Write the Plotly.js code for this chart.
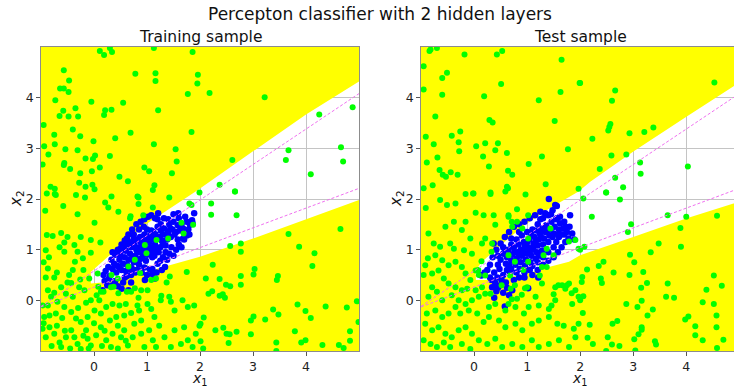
<!DOCTYPE html>
<html>
<head>
<meta charset="utf-8">
<script src="https://cdn.plot.ly/plotly-3.0.1.min.js"></script>
<style>html,body{margin:0;padding:0;background:#fff;}#chart{width:734px;height:387px;}</style>
</head>
<body>
<div id="chart"></div>
<script>
// ---------------- data ----------------
const mainTitle = "Percepton classifier with 2 hidden layers";
const panelTitles = ["Training sample", "Test sample"];
const tickValues = [0, 1, 2, 3, 4];
const tickLabels = ["0", "1", "2", "3", "4"];

// decision boundary of the white (signal) wedge
const trainUpperEdge = [[-0.06,0.56],[0.16,0.76],[0.54,1.12],[1.01,1.52],[1.52,1.88],[1.96,2.18],[3.0,2.94],[4.0,3.67],[5.0,4.32]];
const trainLowerEdge = [[-0.06,0.33],[0.26,0.36],[0.6,0.45],[1.08,0.59],[1.5,0.72],[2.0,0.86],[3.0,1.22],[4.0,1.60],[5.0,1.98]];
const testUpperEdge  = [[0.03,0.59],[0.15,0.76],[0.47,1.06],[0.91,1.45],[1.41,1.81],[1.97,2.15],[2.19,2.34],[3.01,2.94],[4.01,3.63],[4.89,4.22],[5.0,4.30]];
const testLowerEdge  = [[0.03,0.40],[0.28,0.40],[0.91,0.50],[1.41,0.66],[1.79,0.76],[2.0,0.89],[3.0,1.25],[4.01,1.62],[4.89,1.91],[5.0,1.95]];

// dashed reference lines
const refLineX = [-1, 5];
const refUpperY = [-0.12, 4.08];
const refLowerY = [-0.13, 2.21];

// signal (blue) points
const trainSignal = [[0.18,0.50],[0.27,0.66],[0.22,0.58],[0.30,0.48],[0.35,0.62],[0.38,0.72],[0.33,0.80],[0.42,0.55],[0.45,0.68],[0.48,0.80],[0.50,0.90],[0.44,0.95],[0.52,0.60],[0.55,0.72],[0.58,0.85],[0.60,0.98],[0.56,1.05],[0.62,0.70],[0.65,0.80],[0.68,0.92],[0.70,1.05],[0.66,1.15],[0.72,0.62],[0.75,0.75],[0.78,0.88],[0.80,1.00],[0.76,1.12],[0.82,1.20],[0.85,0.70],[0.88,0.82],[0.90,0.95],[0.92,1.08],[0.87,1.25],[0.95,1.30],[0.98,0.78],[1.00,0.90],[1.02,1.02],[1.04,1.15],[1.00,1.40],[1.06,1.28],[1.10,0.85],[1.12,0.98],[1.15,1.10],[1.18,1.22],[1.12,1.35],[1.20,1.45],[1.22,0.95],[1.25,1.05],[1.28,1.18],[1.30,1.30],[1.26,1.50],[1.32,1.42],[1.35,1.08],[1.38,1.20],[1.40,1.35],[1.42,1.50],[1.45,1.25],[1.48,1.40],[1.50,1.55],[1.55,1.35],[1.58,1.48],[1.60,1.62],[1.65,1.50],[1.68,1.42],[1.72,1.65],[1.81,1.49],[1.59,1.72],[1.21,1.72],[1.02,1.65],[0.85,1.40],[0.75,1.30],[0.62,1.22],[1.15,0.43],[0.96,0.40],[0.65,0.20],[0.52,0.23],[1.34,0.66],[0.16,0.20],[0.90,0.55],[1.05,0.62],[1.20,0.72],[0.70,0.50],[0.40,0.38],[0.58,0.45],[0.82,0.95],[0.86,1.05],[0.94,1.18],[0.96,1.00],[1.08,1.05],[1.10,1.20],[0.98,1.12],[1.16,1.30],[1.24,1.25],[0.92,0.88],[0.84,0.78],[1.06,0.95],[1.14,0.88],[0.78,1.05],[1.02,1.22],[1.30,1.12],[1.36,1.30],[0.72,0.82],[0.88,1.15],[1.18,1.02],[1.26,1.38],[1.44,1.42],[1.52,1.30],[0.66,0.62],[0.60,0.58],[0.48,0.65],[1.08,1.38],[0.94,1.45],[1.40,1.60],[1.50,1.70],[1.62,1.38],[1.75,1.55],[1.85,1.58],[1.78,1.40],[1.89,1.72],[1.86,1.52],[1.20,1.60],[1.32,1.62],[0.70,0.35],[0.80,0.60],[0.28,0.42],[1.10,0.52],
[0.40,0.90],[0.45,1.00],[0.52,1.10],[0.58,1.18],[0.65,1.30],[0.72,1.40],[0.80,1.50],[0.88,1.55],[0.95,1.60],[1.08,1.68],[1.15,1.62],[0.35,0.95],[0.50,1.02],[0.60,1.10],[0.75,1.22],[0.85,0.58],[0.95,0.65],[1.00,0.50],[1.10,0.62],[1.18,0.55],[1.25,0.78],[1.30,0.85],[1.38,0.80],[1.42,0.92],[1.50,0.88],[1.55,1.00],[1.60,1.10],[1.65,1.05],[1.70,1.20],[1.75,1.28],[1.80,1.30],[1.46,1.05],[1.35,0.95],[0.70,0.65],[0.78,0.55],[0.62,0.48],[0.55,0.35],[0.45,0.28],[0.35,0.30],[0.25,0.30],[0.20,0.38],[1.58,1.20],[1.68,1.22],[1.28,0.60]];

const testSignal = [[0.12,0.50],[0.34,0.26],[0.40,0.34],[0.58,-0.12],[0.72,0.20],[1.02,0.24],[1.21,0.45],[0.37,1.12],[1.41,2.00],[1.53,1.88],[1.56,1.86],[1.72,1.45],[1.89,1.20],[0.30,0.45],[0.38,0.55],[0.45,0.70],[0.50,0.80],[0.48,0.62],[0.55,0.50],[0.55,0.92],[0.60,0.72],[0.62,0.85],[0.65,1.00],[0.62,0.60],[0.68,0.52],[0.70,0.78],[0.72,0.90],[0.75,1.05],[0.78,0.70],[0.80,0.82],[0.82,0.95],[0.84,1.10],[0.80,1.20],[0.86,0.62],[0.88,0.75],[0.90,0.88],[0.92,1.00],[0.94,1.15],[0.90,1.28],[0.96,0.68],[0.98,0.80],[1.00,0.92],[1.02,1.05],[1.04,1.20],[1.00,1.35],[1.06,0.75],[1.08,0.88],[1.10,1.00],[1.12,1.12],[1.14,1.25],[1.10,1.40],[1.16,0.82],[1.18,0.95],[1.20,1.08],[1.22,1.20],[1.24,1.32],[1.20,1.50],[1.28,0.98],[1.30,1.10],[1.32,1.22],[1.34,1.35],[1.36,1.48],[1.30,1.62],[1.40,1.15],[1.42,1.28],[1.44,1.40],[1.46,1.55],[1.50,1.32],[1.52,1.45],[1.55,1.60],[1.60,1.40],[1.62,1.52],[1.65,1.30],[1.68,1.42],[1.70,1.55],[1.75,1.35],[1.80,1.45],[1.34,1.72],[1.81,1.68],[1.56,1.62],[0.14,0.49],[0.33,0.40],[0.85,0.45],[0.95,0.55],[1.05,0.60],[0.75,0.40],[0.60,0.35],[0.50,0.30],[0.42,0.18],[0.38,0.05],[0.66,0.10],[0.88,1.00],[0.96,1.08],[1.04,0.98],[0.92,0.92],[1.12,1.05],[0.84,0.88],[1.00,1.15],[1.08,1.30],[1.16,1.15],[1.26,1.25],[0.76,0.95],[0.70,1.10],[1.38,1.38],[1.48,1.25],[1.58,1.30],[0.58,1.00],[0.66,0.68],[1.22,0.88],[1.28,1.42],[1.18,1.38],[0.44,0.45],[0.52,0.40],[1.45,1.70],[1.62,1.65],
[0.30,0.70],[0.35,0.85],[0.42,1.00],[0.50,1.12],[0.58,1.25],[0.66,1.35],[0.75,1.45],[0.85,1.50],[0.95,1.55],[1.05,1.62],[1.15,1.68],[1.25,1.75],[0.45,0.88],[0.55,1.05],[0.70,1.22],[0.85,1.35],[0.95,0.45],[1.10,0.50],[1.20,0.60],[1.30,0.70],[1.40,0.78],[1.50,0.85],[1.58,0.95],[1.65,1.05],[1.72,1.15],[1.78,1.22],[1.85,1.32],[1.30,0.85],[1.40,0.95],[1.50,1.05],[1.55,1.15],[1.60,1.25],[1.70,1.30],[1.20,0.75],[1.10,0.68],[0.98,0.62],[0.80,0.55],[0.70,0.62],[0.25,0.60],[0.20,0.55],[0.45,0.25],[0.55,0.15],[0.62,0.25],[1.25,1.60],[1.40,1.68],[1.48,1.78]];

// background (green) points
const trainBackground = [[0.11,4.92],[0.19,4.84],[0.34,4.90],[0.30,4.98],[1.13,4.98],[1.86,4.90],[-0.57,4.54],[-0.47,4.34],[-0.64,4.18],[-0.57,4.18],[-0.48,4.11],[-0.95,3.46],[-0.73,3.95],[-0.58,3.74],[-0.65,3.64],[-0.35,3.79],[-0.30,3.63],[-0.48,3.63],[-0.05,3.92],[0.21,3.75],[0.19,3.66],[0.33,3.76],[0.55,3.90],[0.78,4.47],[1.16,4.48],[1.16,4.33],[1.21,3.75],[1.96,4.45],[1.95,4.28],[1.77,4.07],[2.18,4.09],[3.22,4.01],[-0.94,3.04],[-0.75,3.27],[-0.74,3.08],[-0.86,2.88],[-0.54,2.98],[-0.40,3.37],[-0.26,3.24],[-0.31,2.96],[-0.56,2.71],[-0.57,2.67],[-0.45,2.59],[-0.01,3.14],[0.02,2.86],[-0.02,2.79],[-0.16,2.80],[-0.04,2.55],[0.11,2.62],[-0.26,2.51],[-0.28,2.32],[-0.16,2.24],[-0.03,2.28],[0.01,2.19],[0.30,2.85],[0.40,3.20],[0.69,3.31],[0.48,2.44],[0.64,2.35],[0.82,2.05],[1.13,3.08],[1.54,2.98],[1.56,2.74],[1.47,2.51],[0.95,2.62],[1.04,2.55],[1.14,2.27],[1.11,2.18],[1.84,3.32],[2.61,2.77],[2.37,2.28],[1.99,2.13],[2.66,2.15],[3.67,2.96],[3.62,2.77],[4.09,2.49],[4.66,3.02],[4.70,2.74],[4.25,3.67],[4.88,3.81],[-0.97,2.68],[-0.89,2.11],[-0.82,2.24],[-0.74,2.20],[-0.72,2.08],[-0.34,2.08],
[-0.74,2.10],[-0.17,2.03],[0.21,1.93],[0.33,2.05],[0.84,2.03],[-0.92,1.77],[-0.58,1.86],[-0.31,1.70],[0.01,1.53],[0.69,1.66],[0.84,1.90],[1.11,1.83],[1.42,2.03],[1.80,1.91],[-0.89,1.29],[-0.78,1.27],[-0.62,1.33],[-0.50,1.25],[-0.56,1.14],[-0.25,1.25],[-0.37,1.09],[-0.06,1.19],[0.12,1.14],[-0.91,0.99],[-0.56,0.96],[-0.31,0.96],[-0.21,0.83],[-0.06,0.94],[-0.36,0.76],[-0.87,0.63],[-0.91,0.45],[-0.75,0.45],[-0.62,0.26],[-0.47,0.50],[-0.43,0.34],[-0.26,0.41],[-0.09,0.43],[0.07,0.53],[-0.18,0.20],[-0.87,0.20],[-0.81,0.07],[-0.97,-0.10],[-0.87,-0.10],[-0.69,-0.03],[-0.53,0.13],[-0.40,0.07],[-0.28,0.26],[-0.06,0.0],[0.10,0.0],[0.13,0.17],[0.32,0.26],[0.45,0.43],[0.70,0.17],[0.89,0.20],[1.01,0.20],[1.08,0.40],[1.17,0.43],
[-0.94,-0.33],[-0.84,-0.30],[-0.72,-0.26],[-0.56,-0.13],[-0.43,-0.23],[-0.34,-0.36],[-0.25,-0.43],[-0.12,-0.33],[0.01,-0.20],[0.13,-0.26],[0.23,-0.13],[0.35,-0.07],[0.48,-0.10],[0.42,-0.33],[0.57,-0.30],[0.60,-0.07],[0.82,-0.10],[1.01,-0.07],[1.08,-0.17],[1.14,-0.33],[1.26,0.0],[1.42,0.07],[1.45,-0.03],[1.52,-0.20],[1.67,0.0],[1.77,-0.13],[1.89,-0.10],[0.89,-0.40],[0.76,-0.46],[-0.97,-0.56],[-0.84,-0.53],[-0.91,-0.73],[-0.75,-0.66],[-0.65,-0.83],[-0.53,-0.73],[-0.62,-0.92],[-0.43,-0.59],[-0.37,-0.73],[-0.31,-0.86],[-0.25,-0.96],[-0.15,-0.59],[-0.12,-0.76],[-0.06,-0.89],[0.04,-0.69],[0.13,-0.53],[0.23,-0.79],[0.32,-0.92],[0.35,-0.66],[0.45,-0.50],[0.51,-0.73],[0.57,-0.59],[0.64,-0.89],[0.73,-0.73],[0.89,-0.66],[0.95,-0.92],[1.04,-0.59],[1.11,-0.79],[1.17,-0.92],[1.23,-0.50],[1.33,-0.73],[1.45,-0.92],[1.52,-0.59],[1.64,-0.86],[1.70,-0.53],[1.77,-0.79],[1.86,-0.92],[1.92,-0.66],[1.99,-0.50],
[-0.95,-0.45],[-0.80,-0.90],[-0.70,-0.50],[-0.60,-0.35],[-0.45,-0.95],[-0.20,-0.70],[0.00,-0.45],[0.20,-0.60],[-0.30,-0.15],[-0.15,-0.05],[0.05,0.10],[-0.50,0.35],[-0.70,0.55],[-0.95,0.75],[-0.85,0.85],[-0.65,1.05],[-0.40,0.60],[-0.20,0.60],[0.30,-0.40],[0.70,-0.25],[0.60,-0.80],[0.85,-0.20],[-0.75,0.15],[-0.55,-0.60],[-0.10,-0.95],[0.45,-0.95],[0.15,-0.90],
[1.18,1.19],[0.96,1.09],[0.99,0.93],[0.77,0.80],[0.65,0.67],[0.87,0.54],[0.33,0.50],[1.40,1.22],[1.69,1.32],[1.65,1.53],[0.93,1.68],[0.68,1.62],[0.27,1.83],[0.46,1.75],[0.08,0.27],[0.18,0.17],[0.37,0.27],[0.46,0.14],[0.62,0.17],[0.77,0.24],[0.84,0.05],[1.27,0.09],[1.43,0.47],[1.37,0.35],[1.75,0.56],
[2.66,2.15],[2.21,1.91],[2.21,1.69],[2.69,1.68],[4.65,1.41],[3.67,1.31],[2.77,1.12],[2.57,1.07],[2.77,0.96],[3.87,1.06],[4.16,0.93],[4.12,0.68],[2.24,0.70],[3.03,0.62],[3.01,0.51],[2.77,0.48],[2.77,0.31],[3.47,0.48],[3.45,0.40],[2.11,0.43],[2.37,0.42],[2.49,0.31],[2.57,0.28],[2.23,0.18],[2.16,0.13],[2.37,0.09],[2.43,0.12],[2.47,0.05],[4.96,-0.02],[3.84,-0.08],[4.37,-0.12],[4.77,-0.14],[3.38,-0.18],[3.99,-0.21],[3.48,-0.28],[4.09,-0.35],[2.07,-0.34],[3.01,-0.32],[2.96,-0.40],[3.23,-0.38],[2.01,-0.46],[2.44,-0.54],[2.29,-0.59],[2.50,-0.66],[2.56,-0.67],[2.69,-0.62],[2.96,-0.67],[3.79,-0.61],[4.83,-0.61],[4.99,-0.43],[2.01,-0.81],[2.54,-0.84],[3.44,-0.83],[3.91,-0.83],[3.99,-0.79],[4.31,-0.88],[4.62,-0.88],[4.71,-0.94],[4.83,-0.80],[2.06,-0.95],[3.44,-1.0],[1.87,1.49],[1.84,1.88]];

const testBackground = [[-0.82,4.95],[-0.70,4.98],[-0.84,4.92],[-0.18,4.85],[0.43,4.85],[0.53,4.92],[1.65,4.75],[-0.95,4.62],[-0.51,4.49],[-0.60,4.39],[0.51,4.27],[1.99,4.29],[-0.95,4.16],[-0.60,4.06],[0.19,4.03],[1.22,3.95],[1.63,4.11],[-0.73,3.63],[0.29,3.56],[0.35,3.51],[1.52,3.54],[-0.91,3.23],[-0.42,3.25],[-0.26,3.33],[-0.76,3.08],[-0.29,3.12],[-0.28,2.94],[0.04,3.04],[0.21,3.10],[0.45,3.10],[0.40,2.96],[0.62,2.91],[0.17,2.84],[-0.69,2.82],[-0.89,2.72],[1.28,2.84],[1.77,2.98],[0.28,2.64],[1.03,2.69],[-0.65,2.57],[-0.59,2.48],[-0.53,2.44],[-0.44,2.53],[-0.31,2.48],[0.64,2.56],[0.72,2.48],[-0.95,2.21],[-0.78,2.27],[0.62,2.24],[0.64,2.21],[1.35,2.29],[-0.02,2.11],[0.31,2.13],[0.97,2.09],[1.97,2.20],
[2.0,4.29],[2.66,4.14],[2.60,3.94],[2.57,3.48],[2.55,3.42],[2.53,3.35],[2.23,3.19],[2.93,3.30],[3.21,3.32],[3.38,3.41],[2.59,2.86],[2.87,2.88],[2.37,2.59],[3.13,2.72],[3.14,2.50],[4.03,2.64],[2.66,2.42],[2.81,2.23],[2.49,2.13],[4.53,4.30],
[-0.91,1.82],[-0.64,1.98],[-0.51,1.88],[-0.35,1.91],[-0.16,2.10],[-0.01,2.11],[0.31,2.10],[0.59,2.15],[0.03,1.73],[0.18,1.68],[0.37,1.68],[-0.16,1.55],[-0.38,1.55],[-0.54,1.45],[-0.23,1.39],[-0.07,1.22],[-0.86,1.32],[-0.76,1.12],[-0.64,1.06],[-0.45,1.12],[-0.38,1.02],[-0.19,0.99],[-0.04,0.92],[0.15,1.12],[0.34,1.12],[0.40,1.49],[0.65,1.65],[0.72,1.45],[0.81,1.55],[0.91,1.42],[-0.87,0.83],[-0.73,0.89],[-0.60,0.79],[-0.48,0.69],[-0.35,0.76],[-0.23,0.66],[-0.16,0.53],[-0.07,0.40],[0.03,0.59],[0.09,0.50],[-0.92,0.69],[-0.95,0.50],[-0.79,0.53],[-0.67,0.59],[-0.57,0.43],[-0.48,0.33],[-0.35,0.26],[-0.23,0.20],[-0.13,0.23],[0.03,0.20],[0.15,0.26],[-0.79,0.26],[-0.86,0.07],[-0.70,0.17],[-0.60,0.0],[-0.42,0.10],[-0.29,0.0],[-0.16,-0.07],[-0.04,0.0],[0.09,0.07],[0.21,0.13],[0.31,0.13],[0.69,0.23],[0.81,0.03],[1.0,0.26],[1.16,0.07],[1.28,0.33],[1.53,0.26],[1.66,0.30],[1.72,0.23],[1.79,0.33],[1.91,0.20],[2.04,0.46],[1.97,0.07],[1.85,-0.07],[1.53,0.0],[1.41,-0.17],[1.22,-0.10],[1.03,-0.13],[0.94,-0.26],[0.78,-0.13],[0.65,-0.07],[0.59,-0.20],[0.40,-0.07],[0.28,-0.13],
[-0.89,-0.26],[-0.73,-0.20],[-0.60,-0.33],[-0.48,-0.26],[-0.35,-0.13],[-0.26,-0.26],[-0.10,-0.20],[0.06,-0.26],[0.18,-0.43],[0.28,-0.33],[0.47,-0.40],[0.59,-0.53],[0.78,-0.46],[0.91,-0.59],[1.09,-0.46],[1.22,-0.40],[1.41,-0.33],[1.57,-0.46],[1.69,-0.50],[1.88,-0.56],[1.97,-0.46],[-0.92,-0.46],[-0.79,-0.59],[-0.67,-0.53],[-0.54,-0.66],[-0.42,-0.73],[-0.29,-0.59],[-0.16,-0.53],[-0.04,-0.66],[0.09,-0.79],[0.25,-0.86],[0.40,-0.76],[0.53,-0.92],[0.72,-0.86],[0.91,-0.92],[1.09,-0.79],[1.22,-0.92],[1.41,-0.86],[1.60,-0.79],[1.79,-0.92],[1.91,-0.73],[-0.95,-0.79],[-0.82,-0.86],[-0.70,-0.92],[-0.57,-0.83],[-0.45,-0.92],[-0.23,-0.86],[-0.07,-0.96],
[1.02,1.22],[0.65,0.89],[1.02,0.76],[1.31,0.89],[1.37,1.02],[1.50,0.89],[0.77,0.76],[1.28,0.66],[0.93,0.60],[0.68,0.49],[0.81,1.80],[1.02,1.68],[0.65,1.68],[0.71,1.55],[0.21,1.22],[0.33,0.96],[0.14,0.77],[0.08,0.60],[0.21,0.49],[0.52,0.30],[0.77,0.30],[0.96,0.24],[1.24,0.49],[1.37,0.66],[1.91,1.19],[1.97,1.02],[1.59,0.30],[1.75,0.30],[1.84,0.14],[1.50,0.12],[0.90,0.11],[0.71,0.02],[1.46,-0.10],[1.79,1.16],[1.44,1.42],
[2.06,2.01],[2.49,2.13],[2.75,1.99],[2.22,1.65],[2.96,1.50],[2.90,1.35],[3.65,1.68],[4.0,1.65],[4.58,1.67],[2.08,1.06],[2.0,1.0],[3.89,1.43],[3.48,1.12],[3.90,1.06],[2.94,0.90],[3.33,0.95],[2.44,0.76],[2.35,0.68],[2.13,0.61],[3.02,0.75],[2.63,0.55],[2.93,0.50],[3.19,0.56],[2.03,0.36],[2.39,0.43],[2.41,0.34],[3.26,0.34],[3.65,0.33],[3.15,0.25],[4.52,0.49],[4.38,0.21],[4.67,0.29],[2.06,0.08],[2.0,0.0],[3.16,-0.01],[3.62,0.07],[3.77,0.05],[2.87,-0.07],[3.08,-0.13],[3.37,-0.18],[4.31,-0.04],[4.52,-0.07],[2.05,-0.25],[3.27,-0.30],[2.18,-0.48],[2.70,-0.41],[2.61,-0.46],[3.16,-0.53],[3.16,-0.58],[3.10,-0.67],[4.04,-0.32],[3.98,-0.38],[4.17,-0.51],[4.57,-0.30],[4.57,-0.53],[2.52,-0.73],[2.14,-0.74],[2.24,-0.86],[2.60,-0.87],[2.74,-0.90],[3.02,-0.77],[3.41,-0.81],[3.43,-0.87],[4.17,-0.69],[4.31,-0.79],[4.70,-0.78],[4.58,-0.94],[3.04,-0.99],[2.49,-1.0]];

// ---------------- build ----------------
const COL_YELLOW = "#ffff00", COL_GREEN = "#00ff00", COL_BLUE = "#0000ff", COL_LINE = "#f070f0";
const xs = a => a.map(p => p[0]);
const ys = a => a.map(p => p[1]);

function panelTraces(upper, lower, signal, bkg, ax) {
  const xa = "x" + ax, ya = "y" + ax;
  const tipUX = upper[0][0], tipLX = lower[0][0];
  const lastU = upper[upper.length - 1][1];
  const upPolyX = [-1.5, tipUX].concat(xs(upper), [5.6, 5.6, -1.5]);
  const upPolyY = [0.40, 0.40].concat(ys(upper), [lastU, 5.6, 5.6]);
  const loPolyX = [-1.5, tipLX].concat(xs(lower), [5.6, 5.6, -1.5]);
  const lastL = lower[lower.length - 1][1];
  const loPolyY = [0.50, 0.50].concat(ys(lower), [lastL, -1.6, -1.6]);
  const fill = (x, y) => ({x, y, xaxis: xa, yaxis: ya, type: "scatter", mode: "lines",
    fill: "toself", fillcolor: COL_YELLOW, line: {width: 0, color: COL_YELLOW}, hoverinfo: "skip", showlegend: false});
  return [
    fill(upPolyX, upPolyY),
    fill(loPolyX, loPolyY),
    {x: xs(signal), y: ys(signal), xaxis: xa, yaxis: ya, type: "scatter", mode: "markers",
      marker: {size: 6.5, color: COL_BLUE, line: {width: 0}}, showlegend: false, cliponaxis: true},
    {x: xs(bkg), y: ys(bkg), xaxis: xa, yaxis: ya, type: "scatter", mode: "markers",
      marker: {size: 6, color: COL_GREEN, line: {width: 0}}, showlegend: false, cliponaxis: true},
    {x: refLineX, y: refUpperY, xaxis: xa, yaxis: ya, type: "scatter", mode: "lines",
      line: {color: COL_LINE, width: 1, dash: "3px,2px"}, showlegend: false},
    {x: refLineX, y: refLowerY, xaxis: xa, yaxis: ya, type: "scatter", mode: "lines",
      line: {color: COL_LINE, width: 1, dash: "3px,2px"}, showlegend: false}
  ];
}

const traces = panelTraces(trainUpperEdge, trainLowerEdge, trainSignal, trainBackground, "")
  .concat(panelTraces(testUpperEdge, testLowerEdge, testSignal, testBackground, "2"));

const FONT = "DejaVu Sans, sans-serif";
const axisCommon = {
  showgrid: true, gridcolor: "#c4c4c4", gridwidth: 1, zeroline: false,
  showline: true, mirror: true, linecolor: "#8c8c8c", linewidth: 1.2,
  ticks: "outside", ticklen: 3.5, tickwidth: 1, tickcolor: "#555",
  tickvals: tickValues, ticktext: tickLabels,
  tickfont: {family: FONT, size: 12.5, color: "#222"}, automargin: false, fixedrange: true
};
const W = 734, H = 387;
const yDom = [1 - 351 / H, 1 - 47 / H];

const layout = {
  width: W, height: H, margin: {l: 0, r: 0, t: 0, b: 0},
  paper_bgcolor: "#ffffff", plot_bgcolor: "#ffffff", showlegend: false,
  xaxis:  Object.assign({}, axisCommon, {domain: [41 / W, 359 / W], range: [-1, 5], anchor: "y"}),
  yaxis:  Object.assign({}, axisCommon, {domain: yDom, range: [-1, 5], anchor: "x"}),
  xaxis2: Object.assign({}, axisCommon, {domain: [421 / W, 1], range: [-1, 4.9], anchor: "y2"}),
  yaxis2: Object.assign({}, axisCommon, {domain: yDom, range: [-1, 5], anchor: "x2"}),
  annotations: [
    {text: mainTitle, x: 380 / W, y: 1 - 14 / H, xref: "paper", yref: "paper", showarrow: false,
      xanchor: "center", yanchor: "middle", font: {family: FONT, size: 17, color: "#111"}},
    {text: panelTitles[0], x: 200 / W, y: 1 - 37 / H, xref: "paper", yref: "paper", showarrow: false,
      xanchor: "center", yanchor: "middle", font: {family: FONT, size: 15.5, color: "#111"}},
    {text: panelTitles[1], x: 580 / W, y: 1 - 37 / H, xref: "paper", yref: "paper", showarrow: false,
      xanchor: "center", yanchor: "middle", font: {family: FONT, size: 15.5, color: "#111"}},
    {text: "<i>x</i><sub>1</sub>", x: 200 / W, y: 0, xref: "paper", yref: "paper", showarrow: false,
      xanchor: "center", yanchor: "bottom", yshift: -2, borderpad: 0, font: {family: FONT, size: 14, color: "#111"}},
    {text: "<i>x</i><sub>1</sub>", x: 580 / W, y: 0, xref: "paper", yref: "paper", showarrow: false,
      xanchor: "center", yanchor: "bottom", yshift: -2, borderpad: 0, font: {family: FONT, size: 14, color: "#111"}},
    {text: "<i>x</i><sub>2</sub>", x: 16 / W, y: 1 - 199 / H, xref: "paper", yref: "paper", showarrow: false,
      textangle: -90, xanchor: "center", yanchor: "middle", font: {family: FONT, size: 15, color: "#111"}},
    {text: "<i>x</i><sub>2</sub>", x: 396 / W, y: 1 - 199 / H, xref: "paper", yref: "paper", showarrow: false,
      textangle: -90, xanchor: "center", yanchor: "middle", font: {family: FONT, size: 15, color: "#111"}}
  ]
};

Plotly.newPlot("chart", traces, layout, {staticPlot: true, displayModeBar: false});
</script>
</body>
</html>
